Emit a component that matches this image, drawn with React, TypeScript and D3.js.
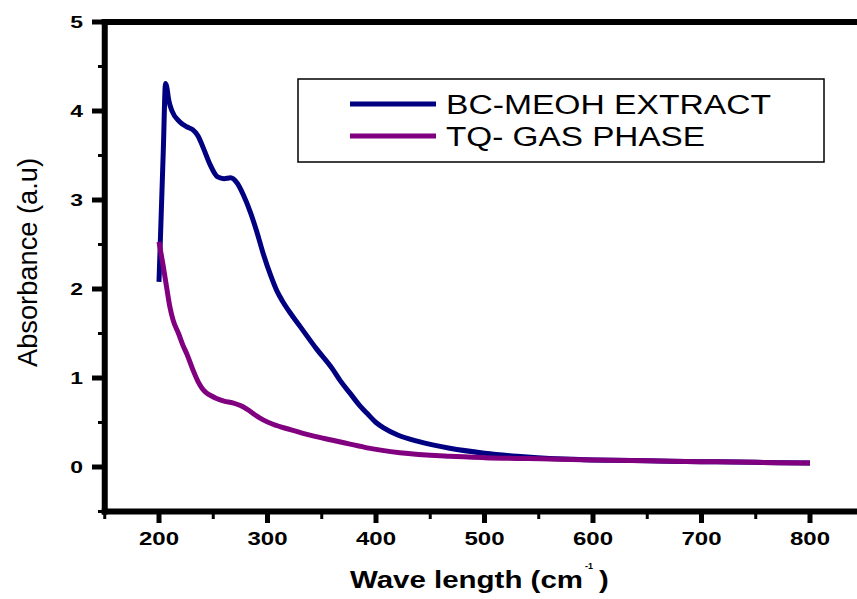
import React from "react";
import * as d3 from "d3";

const wavelengthsBC = [200, 204, 206, 207, 209, 212, 219, 226, 231, 236, 241, 247, 254, 260, 266, 272, 278, 284, 290, 296, 303, 309, 314, 321, 330, 345, 360, 367, 376, 385, 392, 400, 407, 420, 438, 468, 500, 530, 560, 600, 650, 700, 750, 800];
const absorbanceBC = [2.08, 3.57, 4.31, 4.28, 4.12, 4.0, 3.88, 3.82, 3.79, 3.72, 3.58, 3.4, 3.26, 3.24, 3.25, 3.19, 3.05, 2.87, 2.65, 2.4, 2.15, 1.97, 1.86, 1.73, 1.58, 1.33, 1.1, 0.97, 0.83, 0.69, 0.6, 0.5, 0.44, 0.36, 0.29, 0.21, 0.155, 0.12, 0.095, 0.08, 0.07, 0.06, 0.052, 0.045];

const wavelengthsTQ = [200, 204, 207, 210, 213, 218, 222, 226, 231, 236, 240, 244, 248, 253, 260, 268, 275, 281, 288, 296, 305, 321, 340, 360, 375, 392, 422, 468, 500, 560, 600, 650, 700, 750, 800];
const absorbanceTQ = [2.53, 2.25, 2.02, 1.8, 1.65, 1.5, 1.37, 1.26, 1.1, 0.96, 0.88, 0.83, 0.8, 0.77, 0.74, 0.72, 0.69, 0.65, 0.59, 0.53, 0.48, 0.42, 0.355, 0.3, 0.26, 0.215, 0.16, 0.12, 0.105, 0.09, 0.08, 0.07, 0.06, 0.052, 0.045];

const seriesNames = ["BC-MEOH EXTRACT", "TQ- GAS PHASE"];
const seriesColors = ["#000080", "#800080"];

const xMajorTicks = [200, 300, 400, 500, 600, 700, 800];
const xMinorTicks = [150, 250, 350, 450, 550, 650, 750, 850];
const yMajorTicks = [0, 1, 2, 3, 4, 5];
const yMinorTicks = [-0.5, 0.5, 1.5, 2.5, 3.5, 4.5];

const xTitle = "Wave length (cm";
const yTitle = "Absorbance (a.u)";

const FONT = "'Liberation Sans', Arial, Helvetica, sans-serif";

export default function App() {
  const W = 857;
  const H = 599;
  const x = d3.scaleLinear().domain([150, 850]).range([104.75, 864.25]);
  const y = d3.scaleLinear().domain([-0.5, 5]).range([511.5, 22]);

  const line = d3
    .line<[number, number]>()
    .x((d) => x(d[0]))
    .y((d) => y(d[1]))
    .curve(d3.curveMonotoneX);

  const bc: [number, number][] = wavelengthsBC.map((w, i) => [w, absorbanceBC[i]]);
  const tq: [number, number][] = wavelengthsTQ.map((w, i) => [w, absorbanceTQ[i]]);
  const series = [bc, tq];

  const x0 = x(150);
  const yTop = y(5);
  const yBot = y(-0.5);

  return (
    <svg
      width={W}
      height={H}
      style={{ position: "absolute", left: 0, top: 0, background: "#fff" }}
    >
      <rect x={0} y={0} width={W} height={H} fill="#fff" />
      {series.map((s, i) => (
        <path
          key={i}
          d={line(s) || ""}
          fill="none"
          stroke={seriesColors[i]}
          strokeWidth={5}
          strokeLinejoin="round"
          strokeLinecap="butt"
        />
      ))}

      <line x1={x0} y1={yTop - 3} x2={x0} y2={yBot + 3} stroke="#000" strokeWidth={6} />
      <line x1={x0 - 3} y1={yTop} x2={W} y2={yTop} stroke="#000" strokeWidth={6} />
      <line x1={x0 - 3} y1={yBot} x2={W} y2={yBot} stroke="#000" strokeWidth={6} />

      {yMajorTicks.map((t) => (
        <g key={"ym" + t}>
          <line x1={92} y1={y(t)} x2={x0} y2={y(t)} stroke="#000" strokeWidth={5} />
          <text
            transform={`translate(83,${y(t) + 6}) scale(1.35,1)`}
            textAnchor="end"
            fontFamily={FONT}
            fontWeight="bold"
            fontSize={17}
            fill="#000"
          >
            {t}
          </text>
        </g>
      ))}
      {yMinorTicks.map((t) => (
        <line key={"yn" + t} x1={98} y1={y(t)} x2={x0} y2={y(t)} stroke="#000" strokeWidth={3} />
      ))}

      {xMajorTicks.map((t) => (
        <g key={"xm" + t}>
          <line x1={x(t)} y1={yBot} x2={x(t)} y2={523} stroke="#000" strokeWidth={5} />
          <text
            transform={`translate(${x(t)},545) scale(1.3,1)`}
            textAnchor="middle"
            fontFamily={FONT}
            fontWeight="bold"
            fontSize={18.5}
            fill="#000"
          >
            {t}
          </text>
        </g>
      ))}
      {xMinorTicks.map((t) => (
        <line key={"xn" + t} x1={x(t)} y1={yBot} x2={x(t)} y2={519} stroke="#000" strokeWidth={3} />
      ))}

      <text
        x={350}
        y={588}
        fontFamily={FONT}
        fontWeight="bold"
        fontSize={23}
        textLength={233}
        lengthAdjust="spacingAndGlyphs"
        fill="#000"
      >
        {xTitle}
      </text>
      <text x={585} y={569} fontFamily={FONT} fontWeight="bold" fontSize={9} fill="#000">
        -1
      </text>
      <text
        transform="translate(599,588) scale(1.27,1)"
        fontFamily={FONT}
        fontWeight="bold"
        fontSize={23}
        fill="#000"
      >
        )
      </text>
      <text
        transform="translate(37,367) rotate(-90)"
        fontFamily={FONT}
        fontSize={28}
        textLength={209}
        lengthAdjust="spacingAndGlyphs"
        fill="#000"
      >
        {yTitle}
      </text>

      <rect x={298} y={79} width={526} height={83} fill="#fff" stroke="#000" strokeWidth={1.5} />
      {seriesNames.map((name, i) => (
        <g key={name}>
          <line
            x1={350}
            x2={436}
            y1={104 + i * 32}
            y2={104 + i * 32}
            stroke={seriesColors[i]}
            strokeWidth={5}
          />
          <text
            x={446}
            y={114 + i * 32}
            fontFamily={FONT}
            fontSize={27}
            textLength={i === 0 ? 325 : 259}
            lengthAdjust="spacingAndGlyphs"
            fill="#000"
          >
            {name}
          </text>
        </g>
      ))}
    </svg>
  );
}
